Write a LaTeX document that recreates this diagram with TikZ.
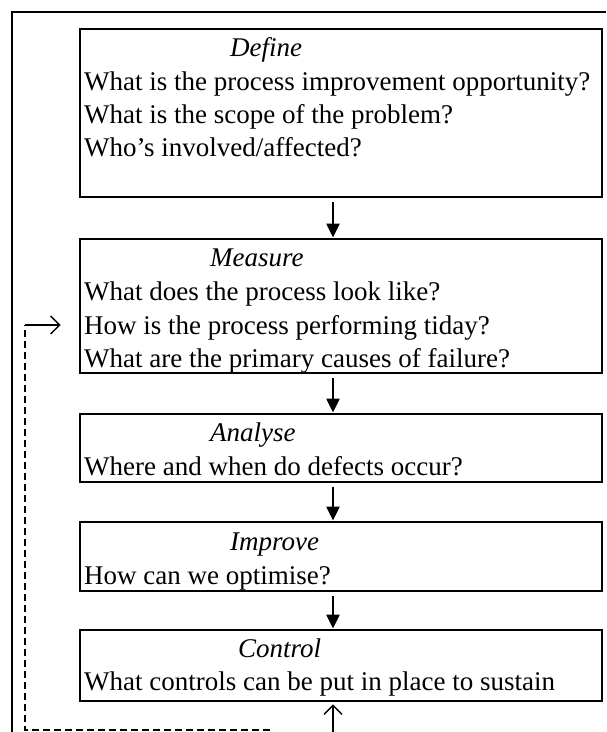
\documentclass[tikz,border=0pt]{standalone}
\usepackage{fontspec}
\setmainfont{Liberation Serif}
\usetikzlibrary{arrows.meta}
\begin{document}
\begin{tikzpicture}[x=1pt,y=-1pt,
  box/.style={draw,line width=2.8pt,rectangle,inner sep=0pt,minimum width=522pt},
  txt/.style={anchor=base west,inner sep=0pt,font=\fontsize{27}{33}\selectfont},
  ttl/.style={anchor=base west,inner sep=0pt,font=\fontsize{27}{33}\selectfont\itshape},
  flow/.style={line width=2.2pt,-{Triangle[length=14pt,width=13pt]},shorten <=4pt},
  back/.style={line width=1.4pt,dash pattern=on 7pt off 4pt},
  open/.style={line width=1.4pt,-{Straight Barb[length=9pt,width=18pt]}}]
\useasboundingbox (0,0) rectangle (606,732);
% outer frame
\coordinate (f1) at (12,732);
\coordinate (f2) at (12,12);
\coordinate (f3) at (606,12);
\draw[line width=2.4pt] (f1) -- (f2) -- (f3);
% boxes
\node[box,minimum height=168pt] (def) at (341,113) {};
\node[box,minimum height=134pt] (mea) at (341,306) {};
\node[box,minimum height=68pt] (ana) at (341,448) {};
\node[box,minimum height=69pt] (imp) at (341,556.5) {};
\node[box,minimum height=71pt] (con) at (341,665.5) {};
% texts
\node[ttl] (t1) at (230,56) {Define};
\node[txt] (l11) at (84,90) {What is the process improvement opportunity?};
\node[txt] (l12) at (84,123) {What is the scope of the problem?};
\node[txt] (l13) at (84,156) {Who's involved/affected?};
\node[ttl] (t2) at (210,266) {Measure};
\node[txt] (l21) at (84,300) {What does the process look like?};
\node[txt] (l22) at (84,334) {How is the process performing tiday?};
\node[txt] (l23) at (84,367) {What are the primary causes of failure?};
\node[ttl] (t3) at (210,441) {Analyse};
\node[txt] (l31) at (84,475) {Where and when do defects occur?};
\node[ttl] (t4) at (230,550) {Improve};
\node[txt] (l41) at (84,584) {How can we optimise?};
\node[ttl] (t5) at (238,657) {Control};
\node[txt] (l51) at (84,690) {What controls can be put in place to sustain};
% flow arrows
\coordinate (ax) at (333,0);
\draw[flow] (def.south -| ax) -- (mea.north -| ax);
\draw[flow] (mea.south -| ax) -- (ana.north -| ax);
\draw[flow] (ana.south -| ax) -- (imp.north -| ax);
\draw[flow] (imp.south -| ax) -- (con.north -| ax);
% feedback
\coordinate (ub) at (333,732);
\draw[open,shorten >=2pt] (ub) -- (con.south -| ax);
\coordinate (d1) at (270,730);
\coordinate (d2) at (25,730);
\coordinate (d3) at (25,325);
\draw[back] (d1) -- (d2) -- (d3);
\draw[open,shorten >=18pt] (d3) -- (mea.west |- d3);
\end{tikzpicture}
\end{document}
